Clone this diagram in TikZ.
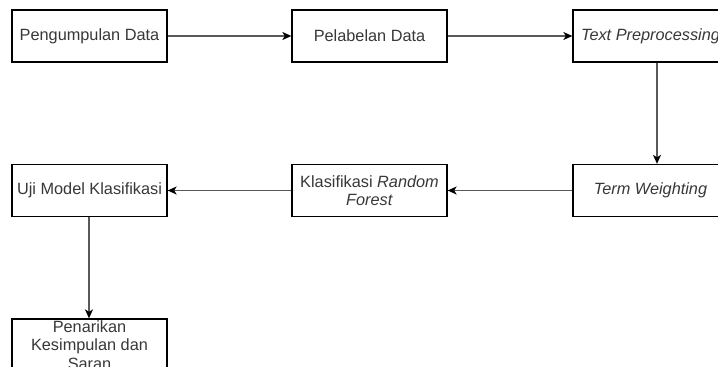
\documentclass[tikz,border=0pt]{standalone}
\usepackage{fontspec}
\setmainfont{Liberation Sans}
\usetikzlibrary{arrows.meta}
\tikzset{
  box/.style={draw=black, line width=1.3pt, fill=white, minimum width=155pt, minimum height=52pt,
    inner sep=0pt, align=center, text=black!78, font=\fontsize{16.3}{18.5}\selectfont},
  link/.style={draw=black!65, line width=1.4pt, -{Stealth[length=9pt,width=8pt,inset=2.5pt,black]}}
}
\begin{document}
\begin{tikzpicture}[x=1pt,y=-1pt]
\useasboundingbox (0,0) rectangle (718,367);
\clip (0,0) rectangle (718,367);
\node[box] (b1) at (89.5,36) {Pengumpulan Data};
\node[box] (b2) at (369.5,36) {Pelabelan Data};
\node[box] (b3) at (650.5,36) {\itshape Text Preprocessing};
\node[box] (b4) at (89.5,190.5) {Uji Model Klasifikasi};
\node[box] (b5) at (369.5,190.5) {Klasifikasi \textit{Random}\\\textit{Forest}};
\node[box] (b6) at (650.5,190.5) {\itshape Term Weighting};
\node[box] (b7) at (89.5,345) {Penarikan\\Kesimpulan dan\\Saran};
\draw[link] (b1.east) -- (b2.west);
\draw[link] (b2.east) -- (b3.west);
\draw[link] ([xshift=6.5pt]b3.south) -- ([xshift=6.5pt]b6.north);
\draw[link] (b6.west) -- (b5.east);
\draw[link] (b5.west) -- (b4.east);
\draw[link] ([xshift=-0.5pt]b4.south) -- ([xshift=-0.5pt]b7.north);
\end{tikzpicture}
\end{document}
